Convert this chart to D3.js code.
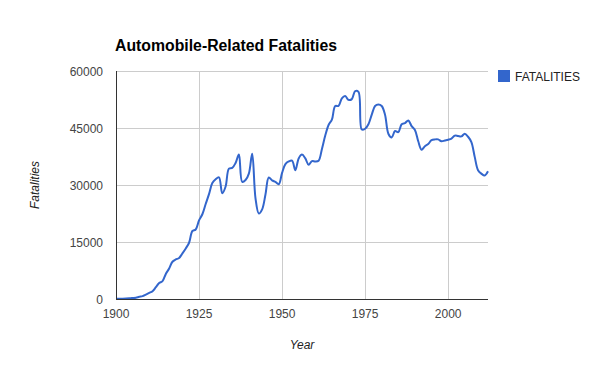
<!DOCTYPE html>
<html>
<head>
<meta charset="utf-8">
<script src="https://cdn.jsdelivr.net/npm/d3@7"></script>
<style>
    body { margin: 0; background: #fff; }
    svg { display: block; font-family: Arial, "Liberation Sans", sans-serif; }
</style>
</head>
<body>
<svg id="chart" width="600" height="371"></svg>
<script>
var years = d3.range(1900, 2013);

var fatalities = [
    36, 54, 79, 117, 172, 252, 338, 581, 751, 1174,
    1599, 2043, 3100, 4200, 4700, 6600, 8000, 9800, 10400, 10800,
    12000, 13300, 14800, 17900, 18300, 20700, 22300, 25000, 27600, 30500,
    31500, 32000, 27800, 29600, 34300, 34500, 35800, 38000, 30800, 31300,
    33000, 38200, 26500, 22500, 23600, 27500, 32000, 31200, 30800, 30200,
    33200, 35500, 36200, 36400, 33900, 37000, 38000, 37000, 35300, 36300,
    36200, 36400, 39500, 43000, 45800, 47200, 50800, 50800, 52800, 53400,
    52400, 52600, 54700, 54500, 44600, 44800, 46000, 48500, 50800, 51200,
    50800, 48500, 43500, 42500, 44200, 43900, 46000, 46300, 47000, 45500,
    44500, 41500, 39300, 40200, 40800, 41800, 42000, 42000, 41500, 41700,
    41900, 42200, 43000, 42900, 42800, 43500, 42700, 41300, 37400, 33900,
    33000, 32500, 33600
];

var xTicks = [1900, 1925, 1950, 1975, 2000];
var yTicks = [0, 15000, 30000, 45000, 60000];

var title = "Automobile-Related Fatalities",
    seriesName = "FATALITIES",
    xTitle = "Year",
    yTitle = "Fatalities";

var plot = { left: 116, right: 488, top: 71, bottom: 299 };
var blue = "#3366cc";

var svg = d3.select("#chart");

var x = d3.scaleLinear().domain([1900, 2012]).range([plot.left, plot.right]);
var y = d3.scaleLinear().domain([0, 60000]).range([plot.bottom, plot.top]);

// grid
svg.append("g")
    .selectAll("line.h")
    .data(yTicks.slice(1))
    .enter()
    .append("line")
    .attr("x1", plot.left).attr("x2", plot.right)
    .attr("y1", function(d) { return y(d) + 0.5; })
    .attr("y2", function(d) { return y(d) + 0.5; })
    .attr("stroke", "#cccccc");

svg.append("g")
    .selectAll("line.v")
    .data(xTicks.slice(1))
    .enter()
    .append("line")
    .attr("y1", plot.top).attr("y2", plot.bottom)
    .attr("x1", function(d) { return Math.round(x(d)) + 0.5; })
    .attr("x2", function(d) { return Math.round(x(d)) + 0.5; })
    .attr("stroke", "#cccccc");

// tick labels
svg.append("g")
    .selectAll("text")
    .data(yTicks)
    .enter()
    .append("text")
    .attr("x", plot.left - 13)
    .attr("y", function(d) { return y(d) + 4.5; })
    .attr("text-anchor", "end")
    .attr("font-size", 12)
    .attr("fill", "#444")
    .text(function(d) { return d; });

svg.append("g")
    .selectAll("text")
    .data(xTicks)
    .enter()
    .append("text")
    .attr("x", function(d) { return x(d); })
    .attr("y", plot.bottom + 19)
    .attr("text-anchor", "middle")
    .attr("font-size", 12)
    .attr("fill", "#444")
    .text(function(d) { return d; });

// line
var line = d3.line()
    .x(function(d, i) { return x(years[i]); })
    .y(function(d) { return y(d); })
    .curve(d3.curveCatmullRom);

svg.append("path")
    .datum(fatalities)
    .attr("d", line)
    .attr("fill", "none")
    .attr("stroke", blue)
    .attr("stroke-width", 2);

// axes lines
svg.append("line")
    .attr("x1", plot.left).attr("x2", plot.right)
    .attr("y1", plot.bottom + 0.5).attr("y2", plot.bottom + 0.5)
    .attr("stroke", "#333");
svg.append("line")
    .attr("x1", plot.left + 0.5).attr("x2", plot.left + 0.5)
    .attr("y1", plot.top).attr("y2", plot.bottom)
    .attr("stroke", "#333");

// title
svg.append("text")
    .attr("x", plot.left - 1)
    .attr("y", 51)
    .attr("font-size", 15.8)
    .attr("font-weight", "bold")
    .attr("fill", "#000")
    .text(title);

// axis titles
svg.append("text")
    .attr("x", (plot.left + plot.right) / 2)
    .attr("y", 349)
    .attr("text-anchor", "middle")
    .attr("font-size", 12)
    .attr("font-style", "italic")
    .attr("fill", "#222")
    .text(xTitle);

svg.append("text")
    .attr("transform", "translate(39," + (plot.top + plot.bottom) / 2 + ") rotate(-90)")
    .attr("text-anchor", "middle")
    .attr("font-size", 12)
    .attr("font-style", "italic")
    .attr("fill", "#222")
    .text(yTitle);

// legend
var legend = svg.append("g").attr("transform", "translate(498,70)");
legend.append("rect")
    .attr("width", 12).attr("height", 12)
    .attr("fill", blue);
legend.append("text")
    .attr("x", 17).attr("y", 10.5)
    .attr("font-size", 12)
    .attr("fill", "#222")
    .text(seriesName);
</script>
</body>
</html>
